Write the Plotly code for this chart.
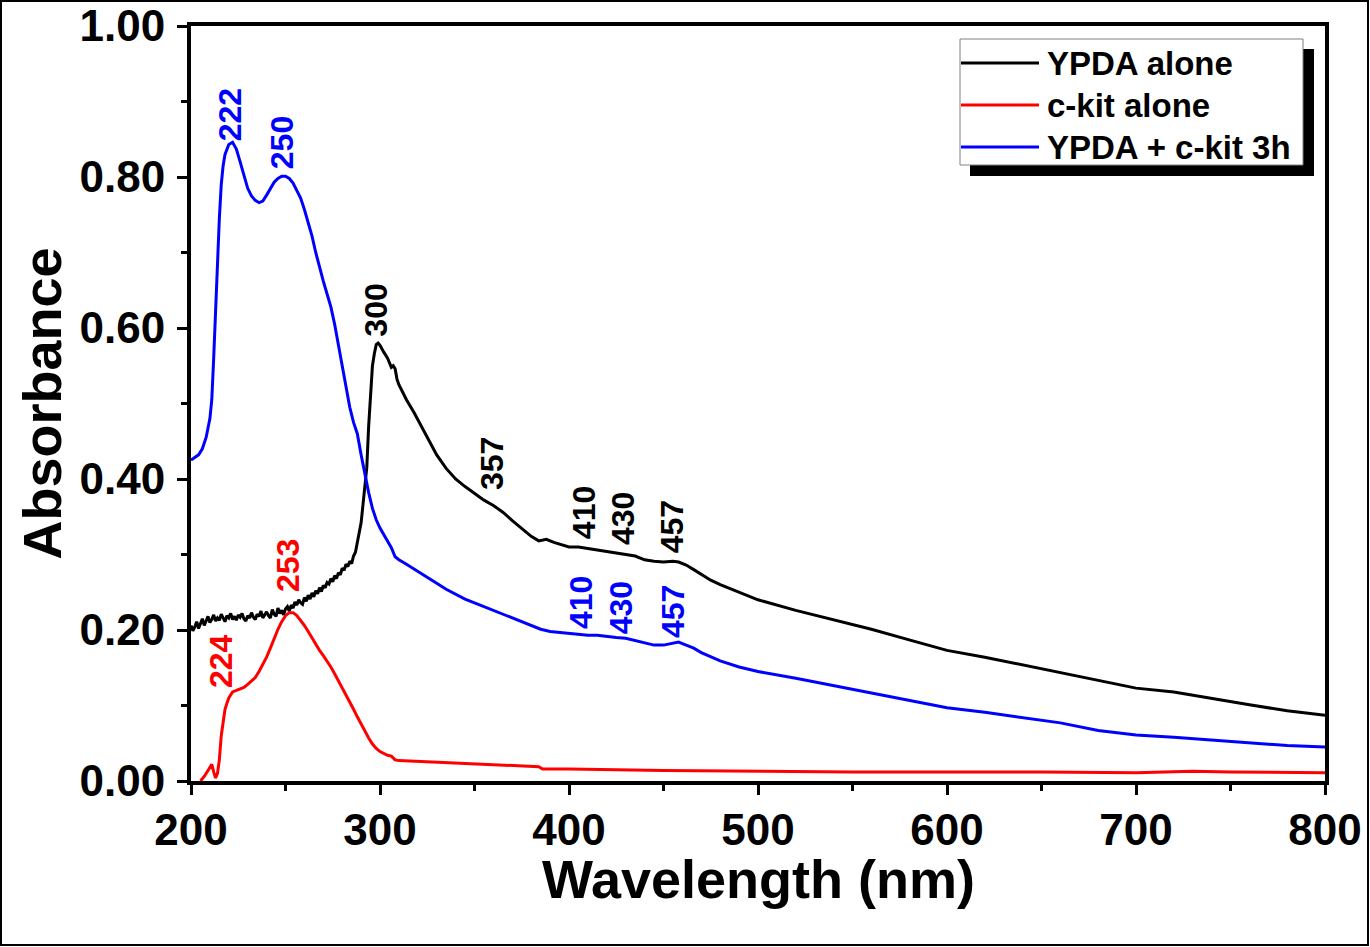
import plotly.graph_objects as go

# Wavelength (nm) / absorbance readings for each sample
ypda_wl = [200, 201, 202, 203, 204, 205, 206, 207, 208, 209, 210, 211, 212, 213, 214, 215,
           216, 217, 218, 219, 220, 221, 222, 223, 224, 225, 226, 227, 228, 229, 230, 231,
           232, 233, 234, 235, 236, 237, 238, 239, 240, 241, 242, 243, 244, 245, 246, 247,
           248, 249, 250, 251, 252, 253, 254, 255, 256, 257, 258, 259, 260, 261, 262, 263,
           264, 265, 266, 267, 268, 269, 270, 271, 272, 273, 274, 275, 276, 277, 278, 279,
           280, 281, 282, 283, 284, 285, 286, 287, 288, 289, 290, 291, 292,
           293, 294, 295, 296, 297, 298, 299, 300, 302, 304, 306, 307, 308, 309, 310, 314,
           318, 322, 326, 330, 335, 340, 345, 350, 355, 360, 365, 370, 375, 380, 384, 388,
           392, 396, 400, 405, 410, 415, 420, 425, 430, 435, 440, 445, 450, 455, 458, 462,
           466, 470, 475, 480, 490, 500, 520, 540, 560, 580, 600, 620, 640, 660, 680, 700,
           720, 740, 760, 780, 800]
ypda_abs = [0.206, 0.199, 0.204, 0.211, 0.202, 0.208, 0.215, 0.206, 0.212, 0.218, 0.210,
            0.214, 0.220, 0.212, 0.216, 0.213, 0.221, 0.215, 0.211, 0.219, 0.216, 0.222,
            0.214, 0.218, 0.213, 0.220, 0.217, 0.222, 0.215, 0.212, 0.219, 0.216, 0.223,
            0.217, 0.214, 0.221, 0.218, 0.225, 0.216, 0.220, 0.224, 0.219, 0.216, 0.227,
            0.221, 0.218, 0.229, 0.222, 0.226, 0.220, 0.228, 0.231, 0.225, 0.233, 0.229,
            0.237, 0.233, 0.240, 0.236, 0.234, 0.243, 0.238, 0.246, 0.241, 0.249, 0.244,
            0.252, 0.248, 0.256, 0.251, 0.259, 0.256, 0.263, 0.261, 0.268, 0.264, 0.272,
            0.268, 0.276, 0.273, 0.282, 0.279, 0.287, 0.284, 0.291, 0.288, 0.298, 0.303,
            0.316, 0.328, 0.342, 0.366, 0.390,
            0.415, 0.470, 0.515, 0.550, 0.566, 0.578, 0.580,
            0.577, 0.568, 0.560, 0.548, 0.550, 0.546, 0.532, 0.525, 0.505, 0.488, 0.470,
            0.450, 0.432, 0.414, 0.400, 0.390, 0.381, 0.372, 0.365, 0.356, 0.345, 0.334,
            0.324, 0.318, 0.320, 0.316, 0.313, 0.310, 0.310, 0.308, 0.306, 0.305, 0.302,
            0.300, 0.298, 0.293, 0.291, 0.290, 0.291, 0.290, 0.286, 0.280, 0.274, 0.266,
            0.260, 0.250, 0.240, 0.226, 0.214, 0.201, 0.187, 0.173, 0.164, 0.154, 0.144,
            0.133, 0.123, 0.118, 0.109, 0.101, 0.093, 0.087]

ckit_wl = [205, 207, 209, 210, 211, 212, 213, 214, 215, 216, 217, 218, 219, 220, 222, 224,
           226, 228, 230, 232, 234, 236, 238, 240, 242, 244, 246, 248, 250, 252, 254, 256,
           258, 260, 262, 264, 266, 268, 270, 272, 274, 276, 278, 280, 282, 284, 286, 288,
           290, 292, 294, 296, 298, 300, 302, 304, 306, 308, 310, 320, 340, 360, 380, 384,
           386, 400, 450, 500, 550, 600, 650, 700, 720, 730, 750, 800]
ckit_abs = [0.000, 0.006, 0.014, 0.018, 0.022, 0.012, 0.004, 0.010, 0.028, 0.060, 0.080,
            0.095, 0.103, 0.110, 0.118, 0.120, 0.122, 0.124, 0.128, 0.132, 0.137, 0.145,
            0.154, 0.164, 0.176, 0.189, 0.201, 0.211, 0.219, 0.223, 0.223, 0.219, 0.213,
            0.206, 0.198, 0.189, 0.181, 0.173, 0.166, 0.159, 0.151, 0.142, 0.133, 0.124,
            0.115, 0.105, 0.095, 0.085, 0.075, 0.066, 0.057, 0.049, 0.043, 0.039, 0.036,
            0.034, 0.033, 0.028, 0.027, 0.026, 0.024, 0.022, 0.020, 0.019, 0.016, 0.016,
            0.014, 0.013, 0.012, 0.012, 0.012, 0.011, 0.012, 0.013, 0.012, 0.011]

mix_wl = [200, 202, 204, 206, 208, 210, 211, 212, 213, 214, 215, 216, 217, 218, 220, 222,
          224, 226, 228, 230, 232, 234, 236, 238, 240, 242, 244, 246, 248, 250, 252, 254,
          256, 258, 260, 262, 264, 266, 268, 270, 272, 274, 276, 278, 280, 282, 284, 286,
          288, 290, 292, 294, 296, 298, 300, 302, 304, 306, 308, 310, 314, 318, 322, 326,
          330, 335, 340, 345, 350, 355, 360, 365, 370, 375, 380, 385, 390, 395, 400, 405,
          410, 415, 420, 425, 430, 435, 440, 445, 450, 455, 458, 462, 466, 470, 475, 480,
          490, 500, 520, 540, 560, 580, 600, 620, 640, 660, 680, 700, 720, 740, 760, 780, 800]
mix_abs = [0.425, 0.428, 0.432, 0.440, 0.455, 0.480, 0.505, 0.560, 0.630, 0.690, 0.745,
           0.790, 0.815, 0.830, 0.843, 0.846, 0.837, 0.820, 0.802, 0.785, 0.775, 0.769,
           0.766, 0.768, 0.776, 0.785, 0.793, 0.798, 0.801, 0.801, 0.798, 0.792, 0.783,
           0.772, 0.757, 0.740, 0.722, 0.700, 0.680, 0.662, 0.645, 0.628, 0.605, 0.578,
           0.548, 0.520, 0.495, 0.475, 0.460, 0.432, 0.405, 0.382, 0.361, 0.346, 0.335,
           0.326, 0.318, 0.309, 0.297, 0.293, 0.287, 0.281, 0.275, 0.268, 0.262, 0.254,
           0.247, 0.241, 0.236, 0.231, 0.227, 0.222, 0.217, 0.211, 0.206, 0.201, 0.198,
           0.197, 0.196, 0.195, 0.193, 0.193, 0.191, 0.190, 0.189, 0.186, 0.183, 0.180,
           0.180, 0.183, 0.184, 0.180, 0.176, 0.170, 0.164, 0.159, 0.151, 0.145, 0.136,
           0.126, 0.117, 0.106, 0.097, 0.091, 0.084, 0.077, 0.067, 0.061, 0.058, 0.054,
           0.051, 0.047, 0.045]

series_names = ["YPDA alone", "c-kit alone", "YPDA + c-kit 3h"]
series_colors = ["#000000", "#FF0000", "#0000FF"]

# Peak labels: (text, x, y, colour)
peak_labels = [
    ("222", 220.6, 0.883, "#0000FF"),
    ("250", 248.1, 0.846, "#0000FF"),
    ("300", 297.9, 0.623, "#000000"),
    ("357", 359.3, 0.420, "#000000"),
    ("410", 407.9, 0.356, "#000000"),
    ("430", 428.6, 0.347, "#000000"),
    ("457", 454.5, 0.336, "#000000"),
    ("410", 406.3, 0.237, "#0000FF"),
    ("430", 427.5, 0.230, "#0000FF"),
    ("457", 455.0, 0.225, "#0000FF"),
    ("253", 251.3, 0.286, "#FF0000"),
    ("224", 215.9, 0.159, "#FF0000"),
]

FONT = "Liberation Sans, Arial, sans-serif"

fig = go.Figure()
for wl, ab, name, color in zip([ypda_wl, ckit_wl, mix_wl], [ypda_abs, ckit_abs, mix_abs],
                               series_names, series_colors):
    fig.add_trace(go.Scatter(x=wl, y=ab, mode="lines", name=name, showlegend=False,
                             line=dict(color=color, width=3)))

for text, x, y, color in peak_labels:
    fig.add_annotation(x=x, y=y, text=text, showarrow=False, textangle=-90,
                       xanchor="center", yanchor="middle",
                       font=dict(family=FONT, size=32, color=color, weight="bold"))

L, R, T, B = 191, 1325, 26, 781
W, H = 1370, 947


def px_x(p):
    return (p - L) / (R - L)


def px_y(p):
    return (B - p) / (B - T)


# x-axis title, placed just below the tick labels
fig.add_annotation(xref="paper", yref="paper", x=0.5, y=px_y(879),
                   text="Wavelength (nm)", showarrow=False,
                   xanchor="center", yanchor="middle",
                   font=dict(family=FONT, size=54, color="#000000", weight="bold"))

# outer frame of the figure
fig.add_shape(type="rect", xref="paper", yref="paper",
              x0=px_x(1), x1=px_x(W - 2), y0=px_y(H - 2), y1=px_y(1),
              fillcolor="rgba(0,0,0,0)", line=dict(color="#000000", width=2), layer="above")

# legend box with a drop shadow
fig.add_shape(type="rect", xref="paper", yref="paper",
              x0=px_x(970), x1=px_x(1314), y0=px_y(176), y1=px_y(49),
              fillcolor="#000000", line=dict(width=0), layer="above")
fig.add_shape(type="rect", xref="paper", yref="paper",
              x0=px_x(960), x1=px_x(1303), y0=px_y(165), y1=px_y(39),
              fillcolor="#FFFFFF", line=dict(color="#808080", width=1), layer="above")
for i, (name, color) in enumerate(zip(series_names, series_colors)):
    yrow = 63 + 42 * i
    fig.add_shape(type="line", xref="paper", yref="paper",
                  x0=px_x(961), x1=px_x(1039), y0=px_y(yrow), y1=px_y(yrow),
                  line=dict(color=color, width=3), layer="above")
    fig.add_annotation(xref="paper", yref="paper", x=px_x(1045), y=px_y(yrow),
                       text=name, showarrow=False, xanchor="left", yanchor="middle",
                       font=dict(family=FONT, size=33, color="#000000", weight="bold"))

axis_common = dict(
    showline=True, linecolor="#000000", linewidth=4, mirror=True,
    ticks="outside", ticklen=10, tickwidth=3, tickcolor="#000000",
    showgrid=False, zeroline=False, automargin=False,
    tickfont=dict(family=FONT, size=44, color="#000000", weight="bold"),
)

fig.update_xaxes(range=[200, 800], tickvals=[200, 300, 400, 500, 600, 700, 800],
                 ticklabelstandoff=-3,
                 minor=dict(dtick=50, ticks="outside", ticklen=6, tickwidth=3,
                            tickcolor="#000000", showgrid=False),
                 **axis_common)
fig.update_yaxes(range=[0, 1.0], tickvals=[0, 0.2, 0.4, 0.6, 0.8, 1.0], tickformat=".2f",
                 ticklabelstandoff=3,
                 minor=dict(dtick=0.1, ticks="outside", ticklen=6, tickwidth=3,
                            tickcolor="#000000", showgrid=False),
                 title=dict(text="Absorbance", standoff=2,
                            font=dict(family=FONT, size=54, color="#000000", weight="bold")),
                 **axis_common)

fig.update_layout(
    width=W, height=H,
    margin=dict(l=L, r=W - R, t=T, b=H - B, pad=0),
    paper_bgcolor="#FFFFFF", plot_bgcolor="#FFFFFF",
    showlegend=False,
)

fig.write_html("out.html")
